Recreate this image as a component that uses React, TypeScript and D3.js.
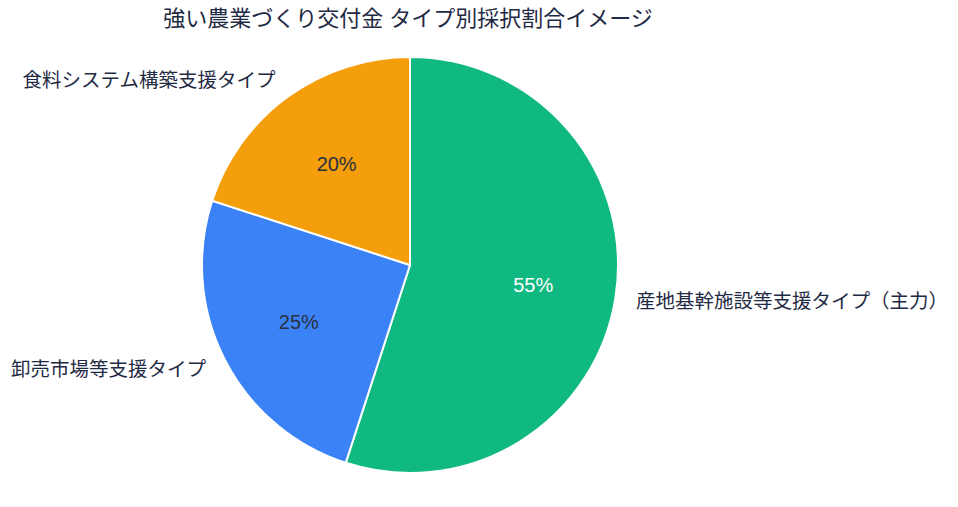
import React, { useRef, useEffect } from 'react';
import * as d3 from 'd3';

const categories = [
  '産地基幹施設等支援タイプ（主力）',
  '卸売市場等支援タイプ',
  '食料システム構築支援タイプ',
];
const shares = [55, 25, 20];
const colors = ['#10b981', '#3b82f6', '#f59e0b'];
const pctColors = ['#ffffff', '#2a3040', '#2a3040'];
const title = '強い農業づくり交付金 タイプ別採択割合イメージ';

const App = () => {
  const ref = useRef<SVGSVGElement>(null);

  useEffect(() => {
    const width = 958;
    const height = 507;
    const cx = 410;
    const cy = 265;
    const radius = 208;
    const font = "'Liberation Sans', 'Noto Sans CJK JP', sans-serif";

    const svg = d3.select(ref.current);
    svg.selectAll('*').remove();
    svg.attr('width', width).attr('height', height);

    svg.append('rect').attr('width', width).attr('height', height).attr('fill', '#ffffff');

    svg.append('text')
      .attr('x', 408)
      .attr('y', 26)
      .attr('text-anchor', 'middle')
      .attr('font-family', font)
      .attr('font-size', 22)
      .attr('fill', '#1f2a44')
      .text(title);

    const data = categories.map((c, i) => ({ name: c, value: shares[i], i }));
    const pie = d3.pie<any>().value(d => d.value).sort(null);
    const arc = d3.arc<any>().innerRadius(0).outerRadius(radius);
    const inner = d3.arc<any>().innerRadius(radius * 0.6).outerRadius(radius * 0.6);
    const outer = d3.arc<any>().innerRadius(radius * 1.1).outerRadius(radius * 1.1);

    const g = svg.append('g').attr('transform', `translate(${cx},${cy})`);
    const arcs = g.selectAll('g.slice').data(pie(data)).enter().append('g').attr('class', 'slice');

    arcs.append('path')
      .attr('d', arc)
      .attr('fill', d => colors[d.data.i])
      .attr('stroke', '#ffffff')
      .attr('stroke-width', 2);

    arcs.append('text')
      .attr('transform', d => `translate(${inner.centroid(d)})`)
      .attr('text-anchor', 'middle')
      .attr('dy', '0.35em')
      .attr('font-family', font)
      .attr('font-size', 20)
      .attr('fill', d => pctColors[d.data.i])
      .text(d => `${d.data.value}%`);

    arcs.append('text')
      .attr('transform', d => `translate(${outer.centroid(d)})`)
      .attr('text-anchor', d => ((d.startAngle + d.endAngle) / 2 < Math.PI ? 'start' : 'end'))
      .attr('dy', '0.35em')
      .attr('font-family', font)
      .attr('font-size', 19.5)
      .attr('fill', '#1f2a44')
      .text(d => d.data.name);
  }, []);

  return <svg ref={ref} style={{ position: 'absolute', left: 0, top: 0 }}></svg>;
};

export default App;
